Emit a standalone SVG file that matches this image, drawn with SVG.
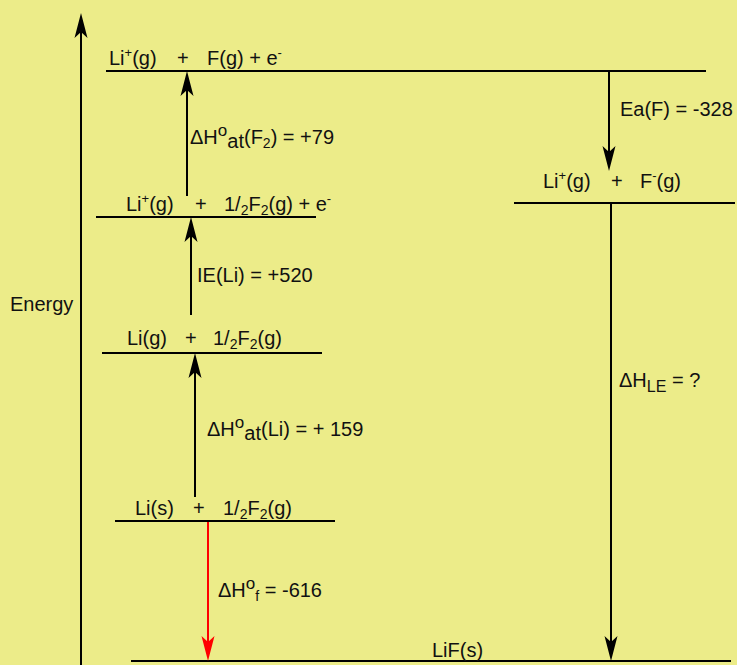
<svg xmlns="http://www.w3.org/2000/svg" width="737" height="665" viewBox="0 0 737 665">
<defs>
<style>
text{font-family:"Liberation Sans",Arial,sans-serif;font-size:20px;fill:#111}
.lvl{stroke:#000;stroke-width:2;fill:none}
.arr{stroke:#000;stroke-width:2;fill:none;marker-end:url(#ah)}
.red{stroke:#f00;stroke-width:2;fill:none;marker-end:url(#ahr)}
.sup{font-size:13px}
.sub{font-size:14px}
</style>
<marker id="ah" viewBox="-26 -7 27 14" refX="-16" refY="0" markerWidth="27" markerHeight="14" markerUnits="userSpaceOnUse" orient="auto">
<path d="M0,0 L-25,-6.5 L-19,0 L-25,6.5 Z" fill="#000"/>
</marker>
<marker id="ahr" viewBox="-26 -7 27 14" refX="-16" refY="0" markerWidth="27" markerHeight="14" markerUnits="userSpaceOnUse" orient="auto">
<path d="M0,0 L-25,-6.5 L-19,0 L-25,6.5 Z" fill="#f00"/>
</marker>
</defs>
<rect width="737" height="665" fill="#ECEC89"/>

<g id="axis">
<line x1="81" y1="665" x2="81" y2="29" class="arr"/>
<text x="10" y="311">Energy</text>
</g>

<g id="level1">
<line class="lvl" x1="106" y1="71" x2="706" y2="71"/>
<text x="109" y="65">Li<tspan class="sup" dy="-8">+</tspan><tspan dy="8">(g)</tspan></text>
<text x="177" y="65">+</text>
<text x="207" y="65">F(g) + e<tspan class="sup" dy="-8">-</tspan></text>
</g>

<g id="level2">
<line class="lvl" x1="96" y1="217" x2="316" y2="217"/>
<text x="126" y="211">Li<tspan class="sup" dy="-8">+</tspan><tspan dy="8">(g)</tspan></text>
<text x="195" y="211">+</text>
<text x="224" y="211">1/<tspan class="sub" dy="4">2</tspan><tspan dy="-4">F</tspan><tspan class="sub" dy="4">2</tspan><tspan dy="-4">(g) + e</tspan><tspan class="sup" dy="-8">-</tspan></text>
</g>

<g id="level3">
<line class="lvl" x1="102" y1="353" x2="322" y2="353"/>
<text x="127" y="345">Li(g)</text>
<text x="185" y="345">+</text>
<text x="213" y="345">1/<tspan class="sub" dy="4">2</tspan><tspan dy="-4">F</tspan><tspan class="sub" dy="4">2</tspan><tspan dy="-4">(g)</tspan></text>
</g>

<g id="level4">
<line class="lvl" x1="115" y1="521" x2="335" y2="521"/>
<text x="135" y="515">Li(s)</text>
<text x="193" y="515">+</text>
<text x="223" y="515">1/<tspan class="sub" dy="4">2</tspan><tspan dy="-4">F</tspan><tspan class="sub" dy="4">2</tspan><tspan dy="-4">(g)</tspan></text>
</g>

<g id="levelRight">
<line class="lvl" x1="514" y1="203" x2="735" y2="203"/>
<text x="543" y="188">Li<tspan class="sup" dy="-8">+</tspan><tspan dy="8">(g)</tspan></text>
<text x="611" y="188">+</text>
<text x="640" y="188">F<tspan class="sup" dy="-8">-</tspan><tspan dy="8">(g)</tspan></text>
</g>

<g id="levelBottom">
<line class="lvl" x1="131" y1="661" x2="731" y2="661"/>
<text x="432" y="657">LiF(s)</text>
</g>

<g id="connectors">
<line class="arr" x1="187" y1="196" x2="187" y2="87"/>
<line class="arr" x1="191" y1="315" x2="191" y2="233"/>
<line class="arr" x1="195" y1="497" x2="195" y2="369"/>
<line class="arr" x1="609" y1="71" x2="609" y2="155"/>
<line class="arr" x1="611" y1="203" x2="611" y2="645"/>
<line class="red" x1="208" y1="522" x2="208" y2="645"/>
</g>

<g id="labels">
<text x="190" y="144">ΔH<tspan font-size="17" dy="-8">o</tspan><tspan dy="12">at</tspan><tspan dy="-4">(F</tspan><tspan class="sub" dy="4">2</tspan><tspan dy="-4">) = +79</tspan></text>
<text x="197" y="282">IE(Li) = +520</text>
<text x="207" y="436">ΔH<tspan font-size="17" dy="-8">o</tspan><tspan dy="12">at</tspan><tspan dy="-4">(Li) = + 159</tspan></text>
<text x="218" y="597">ΔH<tspan font-size="17" dy="-8">o</tspan><tspan class="sub" dy="12">f</tspan><tspan dy="-4"> = -616</tspan></text>
<text x="620" y="116">Ea(F) = -328</text>
<text x="619" y="387">ΔH<tspan font-size="16" dy="5">LE</tspan><tspan dy="-5"> = ?</tspan></text>
</g>
</svg>
